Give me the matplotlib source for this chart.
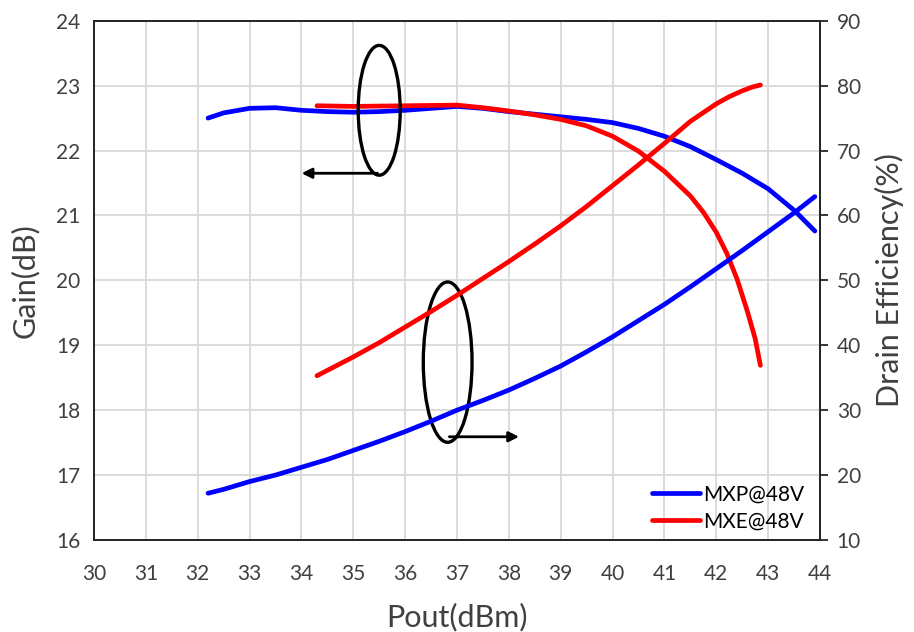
import matplotlib.pyplot as plt
from matplotlib.patches import Ellipse

plt.rcParams['font.family'] = ['Lato', 'DejaVu Sans']

# MXP @ 48V (blue)
mxp_pout = [32.2, 32.5, 33, 33.5, 34, 34.5, 35, 35.5, 36, 36.5, 37, 37.5, 38, 38.5,
            39, 39.5, 40, 40.5, 41, 41.5, 42, 42.5, 43, 43.5, 43.9]
mxp_gain = [22.50, 22.58, 22.65, 22.66, 22.62, 22.60, 22.59, 22.60, 22.62, 22.65, 22.68,
            22.65, 22.60, 22.56, 22.52, 22.48, 22.43, 22.34, 22.22, 22.06, 21.86, 21.65,
            21.41, 21.08, 20.76]
mxp_eff = [17.2, 17.8, 19.0, 20.0, 21.2, 22.4, 23.8, 25.2, 26.7, 28.3, 30.0, 31.5, 33.1,
           34.9, 36.8, 39.0, 41.3, 43.8, 46.3, 49.0, 51.8, 54.6, 57.5, 60.4, 62.9]

# MXE @ 48V (red)
mxe_gain_pout = [34.3, 35, 36, 37, 37.5, 38, 38.5, 39, 39.5, 40, 40.5, 41, 41.5, 41.75,
                 42, 42.2, 42.4, 42.6, 42.75, 42.85]
mxe_gain = [22.69, 22.68, 22.69, 22.70, 22.66, 22.61, 22.55, 22.48, 22.38, 22.22, 21.99,
            21.68, 21.30, 21.05, 20.74, 20.42, 20.02, 19.52, 19.10, 18.69]
mxe_eff_pout = [34.3, 35, 35.5, 36, 36.5, 37, 37.5, 38, 38.5, 39, 39.5, 40, 40.5, 41,
                41.5, 42, 42.25, 42.5, 42.7, 42.85]
mxe_eff = [35.3, 38.2, 40.4, 42.8, 45.2, 47.7, 50.3, 52.9, 55.6, 58.4, 61.4, 64.6, 67.8,
           71.1, 74.5, 77.2, 78.3, 79.2, 79.8, 80.1]

txt = '#404040'

fig = plt.figure(figsize=(9.14, 6.32), dpi=100)
ax = fig.add_axes([0.1028, 0.1456, 0.7944, 0.8216])
ax2 = ax.twinx()

ax.set_xlim(30, 44)
ax.set_ylim(16, 24)
ax2.set_ylim(10, 90)
ax.set_xticks(range(30, 45))
ax.set_yticks(range(16, 25))
ax2.set_yticks(range(10, 91, 10))
ax.grid(True, color='#d9d9d9', linewidth=1.3)
ax.set_axisbelow(True)

lw = 3.4
l1, = ax.plot(mxp_pout, mxp_gain, color='#0000ff', lw=lw, solid_capstyle='round')
l2, = ax.plot(mxe_gain_pout, mxe_gain, color='#ff0000', lw=lw, solid_capstyle='round')
ax2.plot(mxp_pout, mxp_eff, color='#0000ff', lw=lw, solid_capstyle='round')
ax2.plot(mxe_eff_pout, mxe_eff, color='#ff0000', lw=lw, solid_capstyle='round')

for a in (ax, ax2):
    for s in a.spines.values():
        s.set_color('#262626')
        s.set_linewidth(1.3)
ax.tick_params(axis='y', length=0, labelsize=15, labelcolor=txt, pad=10)
ax.tick_params(axis='x', length=0, labelsize=15, labelcolor=txt, pad=17)
ax2.tick_params(axis='y', length=6, width=1.3, color='#262626', labelsize=15,
                labelcolor=txt, pad=6)

ax.set_xlabel('Pout(dBm)', fontsize=22, color=txt, labelpad=14)
ax.set_ylabel('Gain(dB)', fontsize=22, color=txt, labelpad=12)
ax2.set_ylabel('Drain Efficiency(%)', fontsize=22, color=txt, labelpad=10)

# annotations: gain group (left arrow), efficiency group (right arrow)
ax.add_patch(Ellipse((35.5, 22.62), 0.81, 2.0, fill=False, ec='black', lw=2.4, zorder=5))
ax.annotate('', xy=(33.95, 21.65), xytext=(35.52, 21.65),
            arrowprops=dict(arrowstyle='-|>', color='black', lw=2, mutation_scale=15), zorder=5)
ax.add_patch(Ellipse((36.82, 18.74), 0.94, 2.47, fill=False, ec='black', lw=2.4, zorder=5))
ax.annotate('', xy=(38.25, 17.59), xytext=(36.8, 17.59),
            arrowprops=dict(arrowstyle='-|>', color='black', lw=2, mutation_scale=15), zorder=5)

ax2.legend([l1, l2], ['MXP@48V', 'MXE@48V'], loc='lower right',
           bbox_to_anchor=(0.99, 0.0), frameon=False, fontsize=15,
           handlelength=2.3, handletextpad=0.15, labelspacing=0.35, borderaxespad=0.0)

fig.savefig('out.png', dpi=100)
